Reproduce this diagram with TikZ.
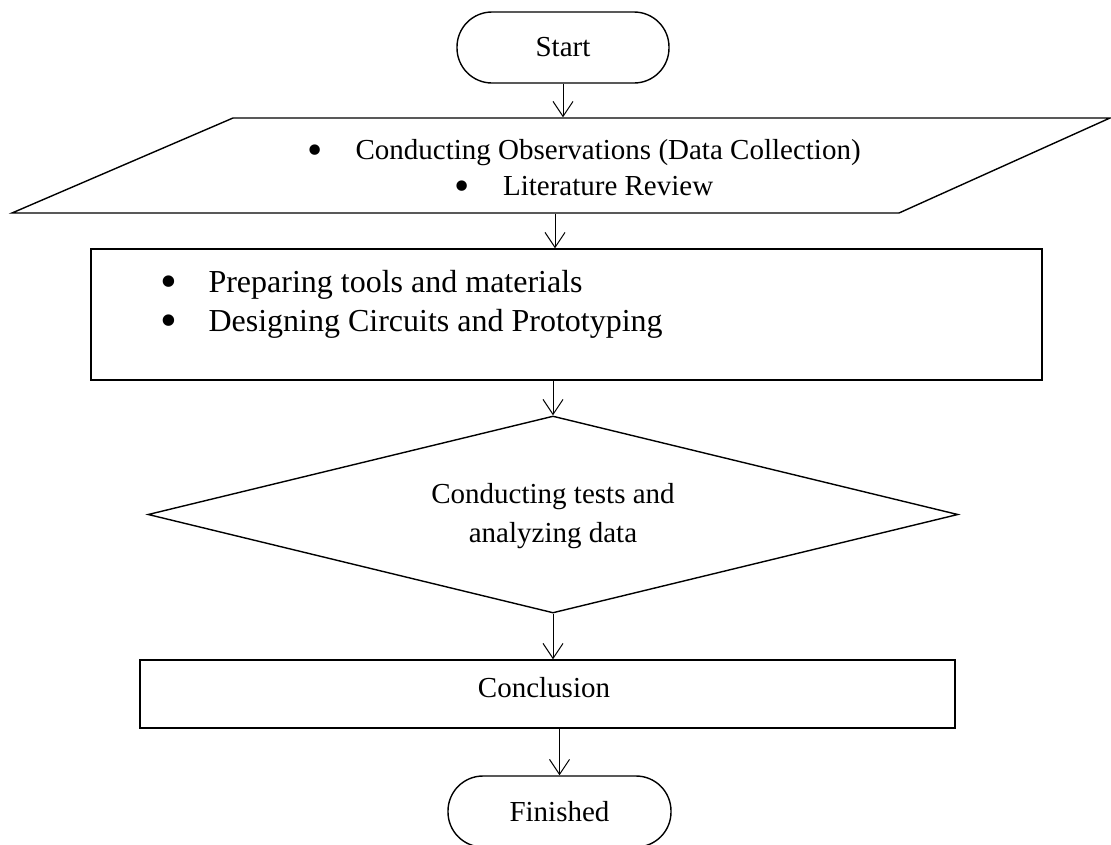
\documentclass[tikz,border=0pt]{standalone}
\usepackage{fontspec}
\setmainfont{Liberation Serif}
\usetikzlibrary{shapes.geometric,arrows.meta}
\newcommand{\bigdot}{\smash{\raisebox{-5pt}{\scalebox{1.5}{\textbullet}}}}
\tikzstyle{term}=[draw, rectangle, rounded corners=35pt, minimum width=212pt, minimum height=71pt, inner sep=0pt]
\tikzstyle{box}=[draw, rectangle, inner sep=0pt]
\tikzstyle{decision}=[draw, diamond, aspect=4.1, inner sep=0pt, minimum width=810pt, minimum height=197pt]
\tikzstyle{txt}=[inner sep=0pt, font=\fontsize{29pt}{36pt}\selectfont]
\tikzstyle{flow}=[line width=1pt, -{Straight Barb[length=15pt,width=20pt]}]

\begin{document}
\begin{tikzpicture}[x=1pt,y=-1pt,line width=1.4pt]
  \useasboundingbox (0,0) rectangle (1111,844);
  \begin{scope}
  \clip (0,0) rectangle (1111,844);

  \draw (563,47.5) node[term,txt] (start) {Start};

  %% input: observation and literature
  \draw (233,118) -- (1110,118) -- (899,213) -- (12,213) -- cycle;
  \draw (555,165.5) node[minimum width=600pt, minimum height=95pt, inner sep=0pt] (obs) {};
  \draw (584,195) node[txt, anchor=base, align=center] (obsText)
    {\bigdot\hspace{33pt}Conducting Observations (Data Collection)\\
     \bigdot\hspace{33pt}Literature Review};

  \draw (566.5,314.5) node[box, minimum width=951pt, minimum height=131pt] (prep) {};
  \draw (160,331) node[txt, anchor=base west, align=left, font=\fontsize{32pt}{39pt}\selectfont] (prepText)
    {\bigdot\hspace{31pt}Preparing tools and materials\\
     \bigdot\hspace{31pt}Designing Circuits and Prototyping};

  \draw (553,514.5) node[decision] (test) {};
  \draw (553,542) node[txt, anchor=base, align=center, font=\fontsize{29pt}{39pt}\selectfont] (testText)
    {Conducting tests and\\analyzing data};

  \draw (547.5,694) node[box, minimum width=815pt, minimum height=68pt] (concl) {};
  \draw (544,697) node[txt, anchor=base] (conclText) {Conclusion};

  \draw (559.5,811.5) node[term,txt, minimum width=223pt] (fin) {Finished};
  \end{scope}

  %% arrows
  \draw[flow] (start.south) -- (start.south |- obs.north);
  \draw[flow] (obs.south) -- (obs.south |- prep.north);
  \draw[flow] (test.north |- prep.south) -- (test.north);
  \draw[flow] (test.south) -- (test.south |- concl.north);
  \draw[flow] (fin.north |- concl.south) -- (fin.north);
\end{tikzpicture}
\end{document}
